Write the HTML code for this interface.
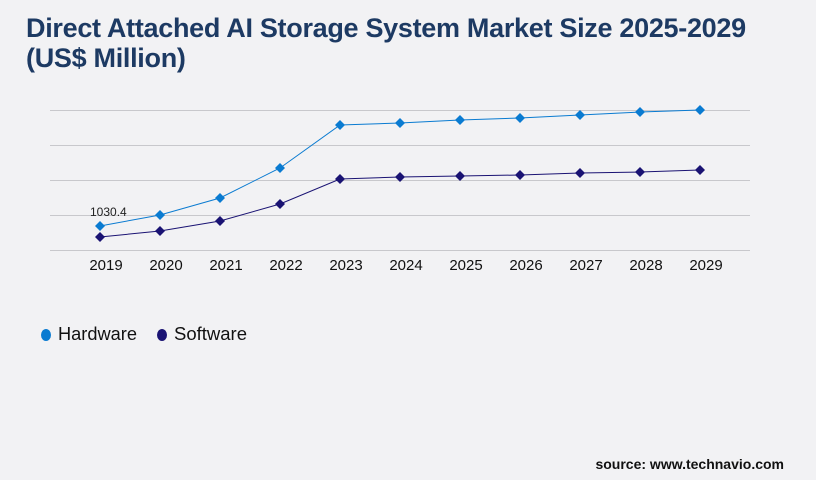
<!DOCTYPE html>
<html><head><style>
body{margin:0;background:#f2f2f4;}
.w{position:relative;width:816px;height:480px;background:#f2f2f4;font-family:"Liberation Sans",sans-serif;overflow:hidden}
.t{position:absolute;left:26px;top:13px;font-size:27px;font-weight:bold;color:#1d3a63;line-height:30px;letter-spacing:-0.3px}
.s{position:absolute;right:32px;top:456px;font-size:14px;font-weight:bold;color:#111;}
</style></head><body><div class="w">
<div class="t">Direct Attached AI Storage System Market Size 2025-2029<br>(US$ Million)</div>
<svg width="816" height="480" style="position:absolute;left:0;top:0">
<g stroke="#c8c8cc" stroke-width="1">
<line x1="50" x2="750" y1="110.5" y2="110.5"/><line x1="50" x2="750" y1="145.5" y2="145.5"/><line x1="50" x2="750" y1="180.5" y2="180.5"/><line x1="50" x2="750" y1="215.5" y2="215.5"/><line x1="50" x2="750" y1="250.5" y2="250.5"/>
</g>
<polyline fill="none" stroke="#0a7bd1" stroke-width="1" points="100,226 160,215 220,198 280,168 340,125 400,123 460,120 520,118 580,115 640,112 700,110"/>
<polyline fill="none" stroke="#1a1373" stroke-width="1" points="100,237 160,231 220,221 280,204 340,179 400,177 460,176 520,175 580,173 640,172 700,170"/>
<g fill="#0a7bd1">
<path d="M100 221l5 5-5 5-5-5z"/><path d="M160 210l5 5-5 5-5-5z"/><path d="M220 193l5 5-5 5-5-5z"/><path d="M280 163l5 5-5 5-5-5z"/><path d="M340 120l5 5-5 5-5-5z"/><path d="M400 118l5 5-5 5-5-5z"/><path d="M460 115l5 5-5 5-5-5z"/><path d="M520 113l5 5-5 5-5-5z"/><path d="M580 110l5 5-5 5-5-5z"/><path d="M640 107l5 5-5 5-5-5z"/><path d="M700 105l5 5-5 5-5-5z"/>
</g>
<g fill="#1a1373">
<path d="M100 232l5 5-5 5-5-5z"/><path d="M160 226l5 5-5 5-5-5z"/><path d="M220 216l5 5-5 5-5-5z"/><path d="M280 199l5 5-5 5-5-5z"/><path d="M340 174l5 5-5 5-5-5z"/><path d="M400 172l5 5-5 5-5-5z"/><path d="M460 171l5 5-5 5-5-5z"/><path d="M520 170l5 5-5 5-5-5z"/><path d="M580 168l5 5-5 5-5-5z"/><path d="M640 167l5 5-5 5-5-5z"/><path d="M700 165l5 5-5 5-5-5z"/>
</g>
<text x="90" y="216" font-size="12" fill="#222" font-family="Liberation Sans">1030.4</text>
<g font-size="15" fill="#111" text-anchor="middle" font-family="Liberation Sans">
<text x="106" y="270">2019</text><text x="166" y="270">2020</text><text x="226" y="270">2021</text><text x="286" y="270">2022</text><text x="346" y="270">2023</text><text x="406" y="270">2024</text><text x="466" y="270">2025</text><text x="526" y="270">2026</text><text x="586" y="270">2027</text><text x="646" y="270">2028</text><text x="706" y="270">2029</text>
</g>
<ellipse cx="46" cy="335" rx="5" ry="6" fill="#0a7bd1"/>
<text x="58" y="340" font-size="18" fill="#111" font-family="Liberation Sans" textLength="79" lengthAdjust="spacingAndGlyphs">Hardware</text>
<ellipse cx="162" cy="335" rx="5" ry="6" fill="#1a1373"/>
<text x="174" y="340" font-size="18" fill="#111" font-family="Liberation Sans" textLength="73" lengthAdjust="spacingAndGlyphs">Software</text>
</svg>
<div class="s">source: www.technavio.com</div>
</div></body></html>
